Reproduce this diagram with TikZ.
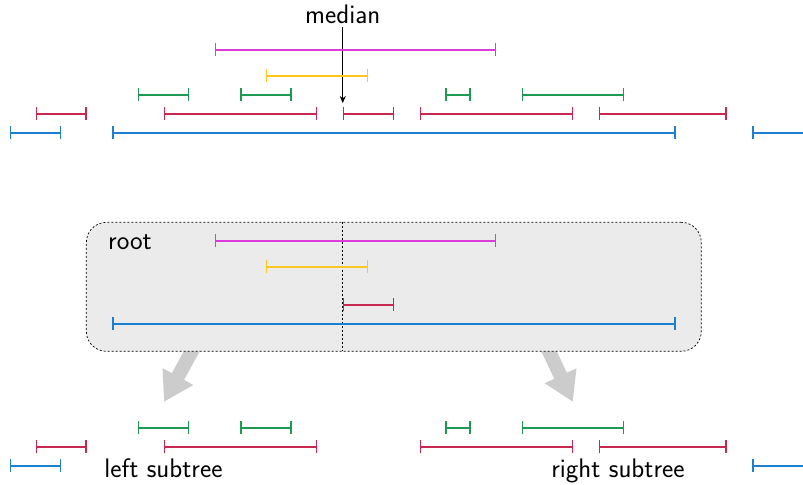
\documentclass[tikz,border=0pt]{standalone}
\usetikzlibrary{arrows.meta}
\definecolor{cmag}{HTML}{DD3ADD}
\definecolor{cyel}{HTML}{FFC61E}
\definecolor{cgrn}{HTML}{1F9A55}
\definecolor{cred}{HTML}{C8284F}
\definecolor{cblu}{HTML}{1A80CF}
\definecolor{cbox}{HTML}{EBEBEB}
\definecolor{carr}{HTML}{CCCCCC}
\tikzset{
  ival/.style={line width=1.4pt,{Bar[width=13pt]}-{Bar[width=13pt]}},
  fat/.style={line width=14pt,color=carr,-{Triangle[length=29pt,width=33pt]}},
  lbl/.style={font=\sffamily\fontsize{26.8}{32}\selectfont,inner sep=0pt},
  rootbox/.style={draw=black,fill=cbox,line width=0.7pt,dash pattern=on 2pt off 2pt,rounded corners=20pt},
}
\newcommand\iv[4]{\draw[ival,#1] (#2,#4) -- (#3,#4);}
\begin{document}
\begin{tikzpicture}[x=25.6pt,y=-1pt]
\useasboundingbox (-0.390625,0) rectangle (30.98,485);
\clip (-0.390625,0) rectangle (30.98,485);
% top: all intervals
\node[lbl,anchor=base] (median) at (13,24) {median};
\coordinate (mtip) at (13,103);
\draw[line width=0.7pt,-{Stealth[length=7pt,width=6pt]}] (median.south) ++(0,-3pt) -- (mtip);
\iv{cmag}{8}{19}{50}
\iv{cyel}{10}{14}{76}
\iv{cgrn}{5}{7}{95}
\iv{cgrn}{9}{11}{95}
\iv{cgrn}{17}{18}{95}
\iv{cgrn}{20}{24}{95}
\iv{cred}{1}{3}{114}
\iv{cred}{6}{12}{114}
\iv{cred}{13}{15}{114}
\iv{cred}{16}{22}{114}
\iv{cred}{23}{28}{114}
\iv{cblu}{0}{2}{133}
\iv{cblu}{4}{26}{133}
\iv{cblu}{29}{32}{133}
% arrows to subtrees
\coordinate (la) at ({(203.5-10)/25.6},330);
\coordinate (lt) at ({(164-10)/25.6},402);
\coordinate (ra) at ({(539-10)/25.6},330);
\coordinate (rt) at ({(573-10)/25.6},402);
\draw[fat] (la) -- (lt);
\draw[fat] (ra) -- (rt);
% root box
\node[rootbox,minimum width=615pt,minimum height=129pt,anchor=north west] (root) at ({(86-10)/25.6},222) {};
\draw[line width=0.6pt,dash pattern=on 2pt off 2pt] (13,222) -- (13,351);
\node[lbl,anchor=west] (rootlbl) at ({(108-10)/25.6},242) {root};
\iv{cmag}{8}{19}{241}
\iv{cyel}{10}{14}{267}
\iv{cred}{13}{15}{305}
\iv{cblu}{4}{26}{324}
% bottom: subtrees
\iv{cgrn}{5}{7}{428}
\iv{cgrn}{9}{11}{428}
\iv{cgrn}{17}{18}{428}
\iv{cgrn}{20}{24}{428}
\iv{cred}{1}{3}{447}
\iv{cred}{6}{12}{447}
\iv{cred}{16}{22}{447}
\iv{cred}{23}{28}{447}
\iv{cblu}{0}{2}{466}
\iv{cblu}{29}{32}{466}
\node[lbl,anchor=base] (left) at ({(163.5-10)/25.6},478) {left subtree};
\node[lbl,anchor=base] (right) at ({(618-10)/25.6},478) {right subtree};
\end{tikzpicture}
\end{document}
